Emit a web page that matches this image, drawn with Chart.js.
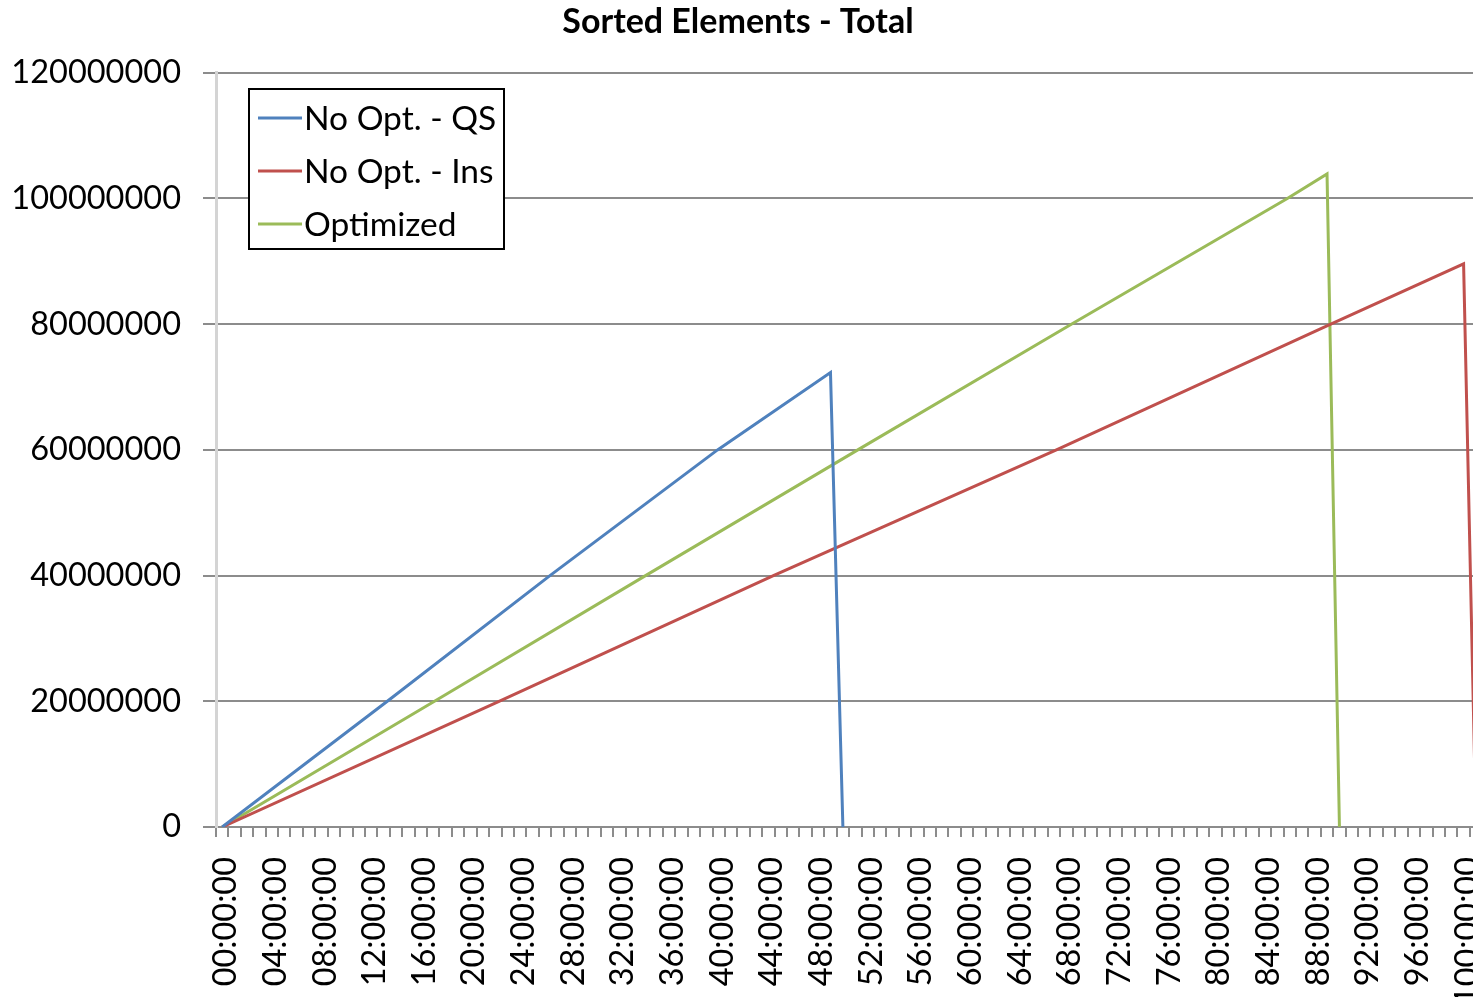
<!DOCTYPE html>
<html>
<head>
<meta charset="utf-8">
<title>Sorted Elements - Total</title>
<script src="https://cdn.jsdelivr.net/npm/chart.js@4/dist/chart.umd.min.js"></script>
<style>
  html, body { margin: 0; padding: 0; background: #ffffff; overflow: hidden; width: 1473px; height: 997px; }
  #wrap { position: absolute; left: 0; top: 0; width: 1476px; height: 997px; }
</style>
</head>
<body>
<div id="wrap"><canvas id="chart" width="1476" height="997"></canvas></div>
<script>
// Elapsed hours (x) and cumulative sorted elements (y) for each run
const seriesNames = ['No Opt. - QS', 'No Opt. - Ins', 'Optimized'];

const hoursQS  = [0, 13.3, 26.4, 39.9, 49, 50];
const sortedQS = [0, 20000000, 40000000, 60000000, 72300000, 0];

const hoursIns  = [0, 22.3, 44.4, 67.2, 89.3, 100, 101];
const sortedIns = [0, 20000000, 40000000, 60000000, 80000000, 89600000, 0];

const hoursOpt  = [0, 17.1, 34.1, 51.2, 68.4, 85.8, 89, 90];
const sortedOpt = [0, 20000000, 40000000, 60000000, 80000000, 100000000, 103900000, 0];

// Axis tick labels
const yTicks = [0, 20000000, 40000000, 60000000, 80000000, 100000000, 120000000];
const xTickLabels = ['00:00:00', '04:00:00', '08:00:00', '12:00:00', '16:00:00', '20:00:00',
  '24:00:00', '28:00:00', '32:00:00', '36:00:00', '40:00:00', '44:00:00', '48:00:00',
  '52:00:00', '56:00:00', '60:00:00', '64:00:00', '68:00:00', '72:00:00', '76:00:00',
  '80:00:00', '84:00:00', '88:00:00', '92:00:00', '96:00:00', '100:00:00'];
const labelEveryHours = 4;
const lastHour = 101;

const colors = ['#4F81BD', '#C0504D', '#9BBB59'];
const FONT = 'Lato, "Open Sans", sans-serif';

function toPoints(xs, ys) {
  return xs.map((x, i) => ({ x: x, y: ys[i] }));
}

// Boxed legend drawn inside the plot area, top-left
const boxedLegend = {
  id: 'boxedLegend',
  afterDraw(chart) {
    const ctx = chart.ctx;
    const box = { x: 249, y: 89, w: 255, h: 160 };
    ctx.save();
    ctx.fillStyle = '#ffffff';
    ctx.fillRect(box.x, box.y, box.w, box.h);
    ctx.strokeStyle = '#000000';
    ctx.lineWidth = 2;
    ctx.strokeRect(box.x, box.y, box.w, box.h);
    ctx.font = '33.5px ' + FONT;
    ctx.textBaseline = 'middle';
    ctx.textAlign = 'left';
    chart.data.datasets.forEach((ds, i) => {
      const y = 118 + i * 53;
      ctx.strokeStyle = ds.borderColor;
      ctx.lineWidth = 3;
      ctx.beginPath();
      ctx.moveTo(258, y);
      ctx.lineTo(302, y);
      ctx.stroke();
      ctx.fillStyle = '#000000';
      ctx.fillText(ds.label, 304, y + 1);
    });
    ctx.restore();
  }
};

new Chart(document.getElementById('chart'), {
  type: 'line',
  data: {
    datasets: [
      { label: seriesNames[0], data: toPoints(hoursQS, sortedQS), borderColor: colors[0] },
      { label: seriesNames[1], data: toPoints(hoursIns, sortedIns), borderColor: colors[1] },
      { label: seriesNames[2], data: toPoints(hoursOpt, sortedOpt), borderColor: colors[2] }
    ].map(d => Object.assign(d, { borderWidth: 3, pointRadius: 0, tension: 0, fill: false }))
  },
  options: {
    responsive: false,
    animation: false,
    devicePixelRatio: 1,
    layout: { padding: { left: 0, right: 0, top: 0, bottom: 0 } },
    plugins: {
      legend: { display: false },
      tooltip: { enabled: false },
      title: {
        display: true,
        text: 'Sorted Elements - Total',
        color: '#000000',
        font: { family: FONT, size: 34, weight: 'bold' },
        padding: { top: 2, bottom: 30 }
      }
    },
    scales: {
      x: {
        type: 'linear',
        min: -0.5,
        max: lastHour,
        afterBuildTicks(scale) {
          const t = [];
          for (let h = 0; h <= lastHour; h++) t.push({ value: h });
          scale.ticks = t;
        },
        afterFit(scale) {
          scale.height = 170;
          scale.paddingLeft = 0;
          scale.paddingRight = 0;
        },
        ticks: {
          autoSkip: false,
          minRotation: 90,
          maxRotation: 90,
          padding: 20,
          labelOffset: 3.5,
          color: '#000000',
          font: { family: FONT, size: 32.5 },
          callback: (v) => (v % labelEveryHours === 0 ? xTickLabels[v / labelEveryHours] : '')
        },
        grid: {
          offset: true,
          drawOnChartArea: false,
          drawTicks: true,
          tickLength: 10,
          color: '#8c8c8c',
          lineWidth: 2
        },
        border: { color: '#8c8c8c', width: 2 }
      },
      y: {
        min: 0,
        max: 120000000,
        afterBuildTicks(scale) { scale.ticks = yTicks.map(v => ({ value: v })); },
        afterFit(scale) { scale.width = 216; },
        ticks: {
          padding: 22,
          color: '#000000',
          font: { family: FONT, size: 32.5 },
          callback: (v) => String(v)
        },
        grid: {
          color: '#8c8c8c',
          lineWidth: 2,
          tickLength: 13
        },
        border: { color: '#d4d4d4', width: 3 }
      }
    }
  },
  plugins: [boxedLegend]
});
</script>
</body>
</html>
